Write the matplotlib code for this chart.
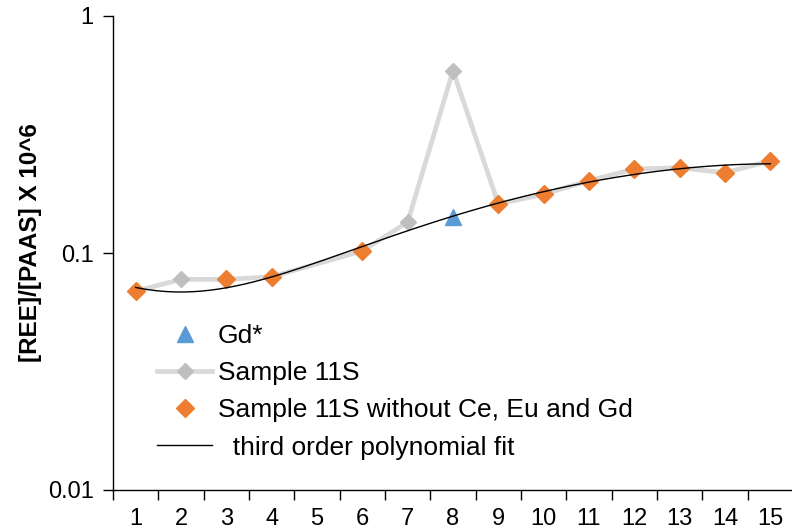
import numpy as np
import matplotlib
matplotlib.use("Agg")
import matplotlib.pyplot as plt
from matplotlib.ticker import FixedLocator, NullLocator, NullFormatter

plt.rcParams['font.family'] = ['Liberation Sans', 'DejaVu Sans']

# REE index positions (1 = La ... 15 = Lu), normalised to PAAS
sample_x = [1, 2, 3, 4, 6, 7, 8, 9, 10, 11, 12, 13, 14, 15]
sample_y = [0.069, 0.0774, 0.0774, 0.0794, 0.102, 0.135, 0.588,
            0.161, 0.177, 0.202, 0.226, 0.229, 0.218, 0.245]

clean_x = [1, 3, 4, 6, 9, 10, 11, 12, 13, 14, 15]
clean_y = [0.069, 0.0774, 0.0794, 0.102, 0.161, 0.177, 0.202,
           0.226, 0.229, 0.218, 0.245]

gd_x = [8]
gd_y = [0.142]

x_labels = [str(i) for i in range(1, 16)]
y_ticks = [0.01, 0.1, 1]
y_tick_labels = ["0.01", "0.1", "1"]

fig = plt.figure(figsize=(7.92, 5.31), dpi=100)
ax = fig.add_axes([113 / 792, 1 - 490 / 531, 680 / 792, 474 / 531])

line_sample, = ax.plot(sample_x, sample_y, color='#d9d9d9', lw=3.4,
                       marker='D', ms=7.8, mfc='#bfbfbf', mec='#bfbfbf',
                       zorder=2, label='Sample 11S')
pts_clean, = ax.plot(clean_x, clean_y, ls='none', marker='D', ms=9.4,
                     mfc='#ed7d31', mec='#ed7d31', zorder=3,
                     label='Sample 11S without Ce, Eu and Gd')
pts_gd, = ax.plot(gd_x, gd_y, ls='none', marker='^', ms=11,
                  mfc='#5b9bd5', mec='#5b9bd5', zorder=3, label='Gd*')

# third order polynomial trendline through the cleaned series
coef = np.polyfit(clean_x, clean_y, 3)
xf = np.linspace(min(clean_x), max(clean_x), 300)
fit_line, = ax.plot(xf, np.polyval(coef, xf), color='black', lw=1.0,
                    zorder=4, label='  third order polynomial fit')

ax.set_yscale('log')
ax.set_ylim(0.01, 1)
ax.set_xlim(0.5, 15.5)

ax.yaxis.set_major_locator(FixedLocator(y_ticks))
ax.set_yticklabels(y_tick_labels)
ax.yaxis.set_minor_locator(NullLocator())
ax.yaxis.set_minor_formatter(NullFormatter())

ax.set_xticks(range(1, 16))
ax.set_xticklabels(x_labels)
ax.set_xticks(np.arange(0.5, 16, 1.0), minor=True)
ax.tick_params(axis='x', which='major', length=0, pad=13, labelsize=17)
ax.tick_params(axis='x', which='minor', length=7, width=1, direction='out')
ax.tick_params(axis='y', which='major', length=7, width=1, pad=7,
               labelsize=17, direction='out')

for side in ('top', 'right'):
    ax.spines[side].set_visible(False)
for side in ('left', 'bottom'):
    ax.spines[side].set_linewidth(1.0)

ax.set_ylabel('[REE]/[PAAS] X 10^6', fontsize=17.5, fontweight='bold')
ax.yaxis.set_label_coords((31 - 113) / 680, 0.523)
ax.yaxis.label.set_va('center')

leg = fig.legend(handles=[pts_gd, line_sample, pts_clean, fit_line],
                 loc='upper left',
                 bbox_to_anchor=(157 / 792, 1 - 324 / 531),
                 frameon=False, fontsize=19, numpoints=1,
                 handlelength=2.1, handletextpad=0.2,
                 labelspacing=0.5, borderpad=0, borderaxespad=0)

fig.savefig('out.png', dpi=100)
